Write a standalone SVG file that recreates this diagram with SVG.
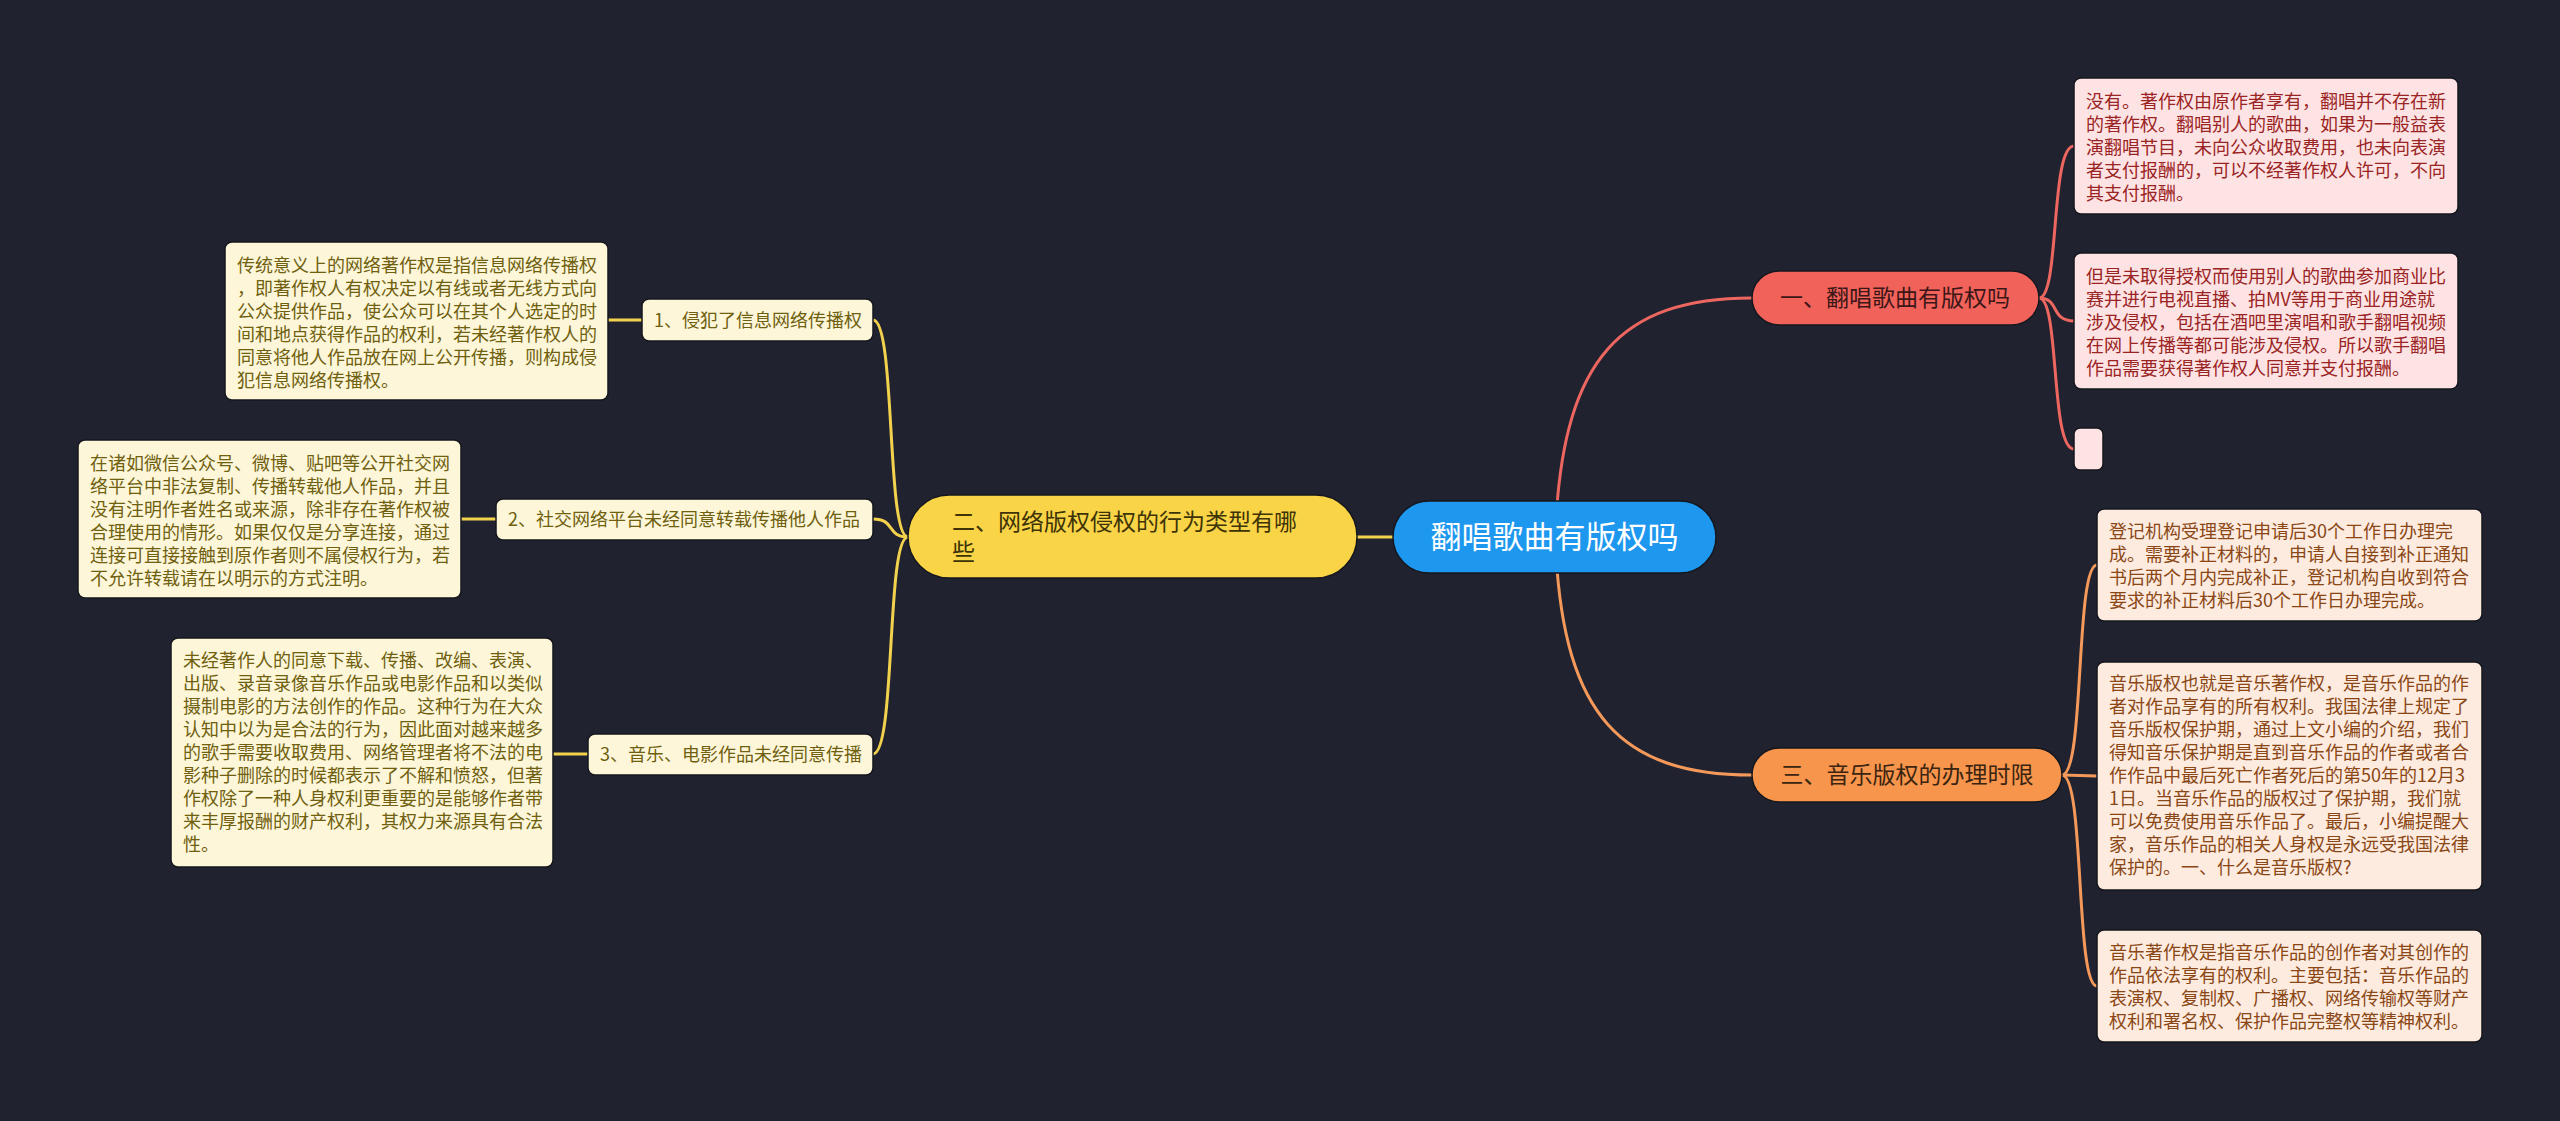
<svg xmlns="http://www.w3.org/2000/svg" width="2560" height="1121" viewBox="0 0 2560 1121">
<style>
text{font-family:"Noto Sans CJK SC","Noto Sans",sans-serif;}
.conn{fill:none;stroke-width:3;stroke-linecap:round;}
.cr{stroke:#ee6660;}
.co{stroke:#f4995a;}
.cy{stroke:#f2d24c;}
.box{stroke:#15171e;stroke-width:1.5;}
.pink{fill:#fde3e3;}
.peach{fill:#fdebdf;}
.cream{fill:#fdf6d9;}
.tp{font-size:18px;fill:#9a2424;}
.to{font-size:18px;fill:#8a4715;}
.tc{font-size:18px;fill:#6f5f0e;}
.big{font-size:23px;}
</style>
<rect x="0" y="0" width="2560" height="1121" fill="#20232f"/>
<g id="connectors">
<path class="conn cr" d="M1556,520 C1565,360 1620,298 1752,298"/>
<path class="conn co" d="M1556,554 C1565,714 1620,775 1752,775"/>
<path class="conn cy" d="M1393,537 L1357,537"/>
<path class="conn cr" d="M2039,298 C2060,298 2050,146 2074,146"/>
<path class="conn cr" d="M2039,298 C2060,298 2050,321 2074,321"/>
<path class="conn cr" d="M2039,298 C2060,298 2050,449 2074,449"/>
<path class="conn co" d="M2062,775 C2085,775 2075,565 2097,565"/>
<path class="conn co" d="M2062,775 L2097,776"/>
<path class="conn co" d="M2062,775 C2085,775 2075,986 2097,986"/>
<path class="conn cy" d="M908,537 C886,537 896,320 873,320"/>
<path class="conn cy" d="M908,537 C886,537 896,519 873,519"/>
<path class="conn cy" d="M908,537 C886,537 896,754 873,754"/>
<path class="conn cy" d="M642,320 L608,320"/>
<path class="conn cy" d="M496,519 L461,519"/>
<path class="conn cy" d="M588,754 L553,754"/>
</g>
<g id="root">
<rect x="1393" y="501" width="323" height="72" rx="36" fill="#1e97ee" class="box"/>
<text x="1554.5" y="548" font-size="31" fill="#ffffff" text-anchor="middle">翻唱歌曲有版权吗</text>
</g>
<g id="branch1">
<rect x="1752" y="271" width="287" height="54" rx="27" fill="#f1625b" class="box"/>
<text x="1895" y="306" class="big" fill="#3d1616" text-anchor="middle">一、翻唱歌曲有版权吗</text>
</g>
<g id="branch3">
<rect x="1752" y="748" width="310" height="54" rx="27" fill="#f7954c" class="box"/>
<text x="1907" y="783" class="big" fill="#3b2410" text-anchor="middle">三、音乐版权的办理时限</text>
</g>
<g id="branch2">
<rect x="908" y="495" width="449" height="83" rx="41" fill="#f9d447" class="box"/>
<text class="big" fill="#3d3306"><tspan x="952" y="530">二、网络版权侵权的行为类型有哪</tspan><tspan x="952" y="560">些</tspan></text>
</g>
<g id="b1c1">
<rect x="2074" y="78" width="384" height="136" rx="7" class="box pink"/>
<text class="tp"><tspan x="2086" y="108">没有。著作权由原作者享有，翻唱并不存在新</tspan><tspan x="2086" y="131">的著作权。翻唱别人的歌曲，如果为一般益表</tspan><tspan x="2086" y="154">演翻唱节目，未向公众收取费用，也未向表演</tspan><tspan x="2086" y="177">者支付报酬的，可以不经著作权人许可，不向</tspan><tspan x="2086" y="200">其支付报酬。</tspan></text>
</g>
<g id="b1c2">
<rect x="2074" y="253" width="384" height="136" rx="7" class="box pink"/>
<text class="tp"><tspan x="2086" y="283">但是未取得授权而使用别人的歌曲参加商业比</tspan><tspan x="2086" y="306">赛并进行电视直播、拍MV等用于商业用途就</tspan><tspan x="2086" y="329">涉及侵权，包括在酒吧里演唱和歌手翻唱视频</tspan><tspan x="2086" y="352">在网上传播等都可能涉及侵权。所以歌手翻唱</tspan><tspan x="2086" y="375">作品需要获得著作权人同意并支付报酬。</tspan></text>
</g>
<g id="b1c3">
<rect x="2074" y="428" width="29" height="42" rx="6" class="box pink"/>
</g>
<g id="b3c1">
<rect x="2097" y="509" width="385" height="112" rx="7" class="box peach"/>
<text class="to"><tspan x="2109" y="538">登记机构受理登记申请后30个工作日办理完</tspan><tspan x="2109" y="561">成。需要补正材料的，申请人自接到补正通知</tspan><tspan x="2109" y="584">书后两个月内完成补正，登记机构自收到符合</tspan><tspan x="2109" y="607">要求的补正材料后30个工作日办理完成。</tspan></text>
</g>
<g id="b3c2">
<rect x="2097" y="662" width="385" height="228" rx="7" class="box peach"/>
<text class="to"><tspan x="2109" y="690">音乐版权也就是音乐著作权，是音乐作品的作</tspan><tspan x="2109" y="713">者对作品享有的所有权利。我国法律上规定了</tspan><tspan x="2109" y="736">音乐版权保护期，通过上文小编的介绍，我们</tspan><tspan x="2109" y="759">得知音乐保护期是直到音乐作品的作者或者合</tspan><tspan x="2109" y="782">作作品中最后死亡作者死后的第50年的12月3</tspan><tspan x="2109" y="805">1日。当音乐作品的版权过了保护期，我们就</tspan><tspan x="2109" y="828">可以免费使用音乐作品了。最后，小编提醒大</tspan><tspan x="2109" y="851">家，音乐作品的相关人身权是永远受我国法律</tspan><tspan x="2109" y="874">保护的。一、什么是音乐版权?</tspan></text>
</g>
<g id="b3c3">
<rect x="2097" y="930" width="385" height="112" rx="7" class="box peach"/>
<text class="to"><tspan x="2109" y="959">音乐著作权是指音乐作品的创作者对其创作的</tspan><tspan x="2109" y="982">作品依法享有的权利。主要包括：音乐作品的</tspan><tspan x="2109" y="1005">表演权、复制权、广播权、网络传输权等财产</tspan><tspan x="2109" y="1028">权利和署名权、保护作品完整权等精神权利。</tspan></text>
</g>
<g id="b2c1">
<rect x="642" y="299" width="231" height="42" rx="7" class="box cream"/>
<text x="654" y="327" class="tc">1、侵犯了信息网络传播权</text>
</g>
<g id="b2c1d">
<rect x="225" y="242" width="383" height="158" rx="7" class="box cream"/>
<text class="tc"><tspan x="237" y="272">传统意义上的网络著作权是指信息网络传播权</tspan><tspan x="237" y="295">，即著作权人有权决定以有线或者无线方式向</tspan><tspan x="237" y="318">公众提供作品，使公众可以在其个人选定的时</tspan><tspan x="237" y="341">间和地点获得作品的权利，若未经著作权人的</tspan><tspan x="237" y="364">同意将他人作品放在网上公开传播，则构成侵</tspan><tspan x="237" y="387">犯信息网络传播权。</tspan></text>
</g>
<g id="b2c2">
<rect x="496" y="499" width="377" height="41" rx="7" class="box cream"/>
<text x="508" y="526" class="tc">2、社交网络平台未经同意转载传播他人作品</text>
</g>
<g id="b2c2d">
<rect x="78" y="440" width="383" height="158" rx="7" class="box cream"/>
<text class="tc"><tspan x="90" y="470">在诸如微信公众号、微博、贴吧等公开社交网</tspan><tspan x="90" y="493">络平台中非法复制、传播转载他人作品，并且</tspan><tspan x="90" y="516">没有注明作者姓名或来源，除非存在著作权被</tspan><tspan x="90" y="539">合理使用的情形。如果仅仅是分享连接，通过</tspan><tspan x="90" y="562">连接可直接接触到原作者则不属侵权行为，若</tspan><tspan x="90" y="585">不允许转载请在以明示的方式注明。</tspan></text>
</g>
<g id="b2c3">
<rect x="588" y="734" width="285" height="41" rx="7" class="box cream"/>
<text x="600" y="761" class="tc">3、音乐、电影作品未经同意传播</text>
</g>
<g id="b2c3d">
<rect x="171" y="638" width="382" height="229" rx="7" class="box cream"/>
<text class="tc"><tspan x="183" y="667">未经著作人的同意下载、传播、改编、表演、</tspan><tspan x="183" y="690">出版、录音录像音乐作品或电影作品和以类似</tspan><tspan x="183" y="713">摄制电影的方法创作的作品。这种行为在大众</tspan><tspan x="183" y="736">认知中以为是合法的行为，因此面对越来越多</tspan><tspan x="183" y="759">的歌手需要收取费用、网络管理者将不法的电</tspan><tspan x="183" y="782">影种子删除的时候都表示了不解和愤怒，但著</tspan><tspan x="183" y="805">作权除了一种人身权利更重要的是能够作者带</tspan><tspan x="183" y="828">来丰厚报酬的财产权利，其权力来源具有合法</tspan><tspan x="183" y="851">性。</tspan></text>
</g>
</svg>
